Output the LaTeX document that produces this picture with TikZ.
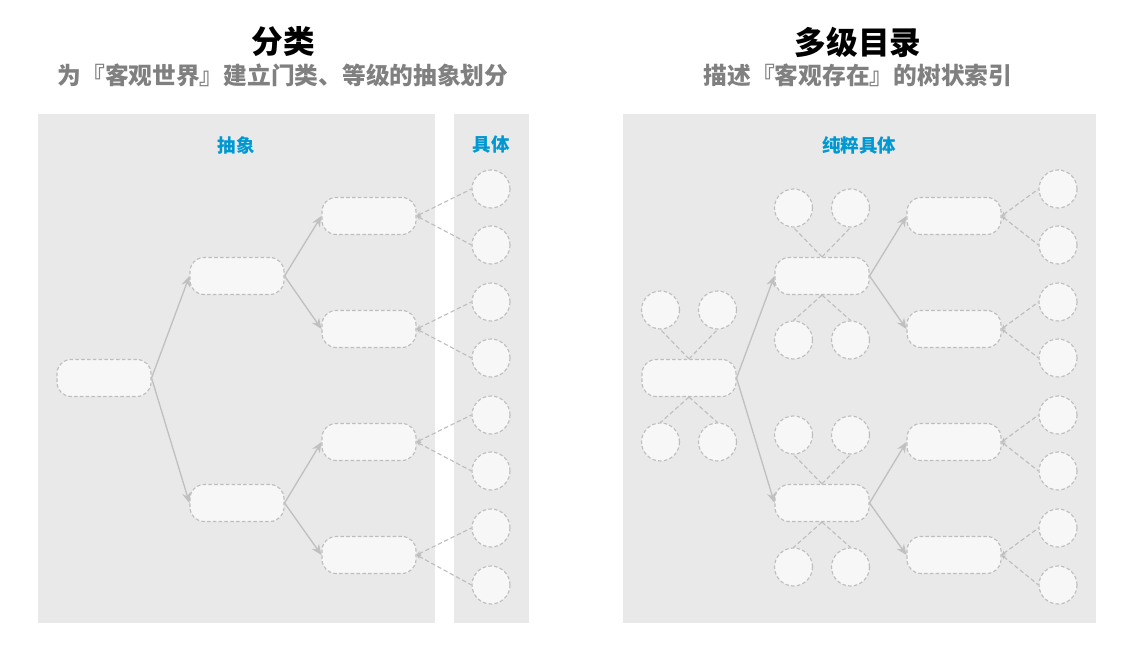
\documentclass[tikz,border=0pt]{standalone}
\usepackage{fontspec}
\newfontfamily\cjk{Noto Sans CJK SC}
\usetikzlibrary{arrows.meta, positioning}
\definecolor{panelgray}{RGB}{233,233,233}
\definecolor{boxfill}{RGB}{247,247,247}
\definecolor{dashgray}{RGB}{190,190,190}
\definecolor{linkgray}{RGB}{192,192,192}
\definecolor{labelblue}{RGB}{0,152,210}
\definecolor{subgray}{RGB}{128,128,128}
\tikzset{
  catbox/.style={draw=dashgray, dash pattern=on 2pt off 1.3pt, fill=boxfill, rounded corners=8pt,
                 minimum width=1.88cm, minimum height=0.74cm, line width=0.65pt},
  leaf/.style={draw=dashgray, dash pattern=on 2pt off 1.3pt, fill=boxfill, circle,
               minimum size=0.76cm, inner sep=0pt, line width=0.65pt},
  branch/.style={draw=linkgray, line width=0.75pt, -{Stealth[length=6pt,width=5pt]}},
  twig/.style={draw=dashgray, dash pattern=on 2.5pt off 1.5pt, line width=0.65pt},
  twigin/.style={twig, {Stealth[length=2.5pt,width=2.5pt]}-},
  headline/.style={font=\cjk\bfseries\fontsize{18}{20}\selectfont, text=black},
  subline/.style={font=\cjk\bfseries\fontsize{13.5}{15}\selectfont, text=subgray},
  zone/.style={font=\cjk\bfseries\fontsize{10.5}{12}\selectfont, text=labelblue}
}
\begin{document}
\begin{tikzpicture}[x=0.02cm, y=-0.02cm]
    \useasboundingbox (0,0) rectangle (1133,661);

    % panels
    \fill[panelgray] (38,114) rectangle (435,623);
    \fill[panelgray] (454,114) rectangle (529,623);
    \fill[panelgray] (623,114) rectangle (1096,623);

    % titles
    \node[headline] (t1) at (283,42) {分类};
    \node[subline] (s1) at (283,75) {为『客观世界』建立门类、等级的抽象划分};
    \node[headline] (t2) at (858,42) {多级目录};
    \node[subline] (s2) at (858,75) {描述『客观存在』的树状索引};

    \node[zone] (z1) at (236,145) {抽象};
    \node[zone] (z2) at (491,145) {具体};
    \node[zone] (z3) at (859,145) {纯粹具体};

    % classification tree
    \node[catbox] (a0) at (104,378) {};
    \foreach \n/\y in {1/276, 2/503}
        \node[catbox] (a\n) at (237,\y) {};
    \foreach \n/\y in {1/216, 2/329, 3/442, 4/555}
        \node[catbox] (b\n) at (369,\y) {};
    \foreach \n/\y in {1/189, 2/245, 3/302, 4/358, 5/415, 6/471, 7/528, 8/585}
        \node[leaf] (l\n) at (491,\y) {};

    \foreach \n in {1,2}
        \draw[branch] (a0.east) -- (a\n.west);
    \foreach \n/\p in {1/1, 2/1, 3/2, 4/2}
        \draw[branch] (a\p.east) -- (b\n.west);
    \foreach \n/\p in {1/1, 2/1, 3/2, 4/2, 5/3, 6/3, 7/4, 8/4}
        \draw[twigin] (b\p.east) -- (l\n.west);

    % directory tree
    \foreach \k/\x/\y in {0/689/378, 1/822/276, 2/822/503} {
        \node[catbox] (r\k) at (\x,\y) {};
        \node[leaf] (r\k u1) at ({\x-28.5},{\y-68}) {};
        \node[leaf] (r\k u2) at ({\x+28.5},{\y-68}) {};
        \node[leaf] (r\k d1) at ({\x-28.5},{\y+64}) {};
        \node[leaf] (r\k d2) at ({\x+28.5},{\y+64}) {};
        \draw[twig] (r\k.north) -- (r\k u1.south);
        \draw[twig] (r\k.north) -- (r\k u2.south);
        \draw[twig] (r\k.south) -- (r\k d1.north);
        \draw[twig] (r\k.south) -- (r\k d2.north);
    }
    \foreach \n/\y in {1/216, 2/329, 3/442, 4/555}
        \node[catbox] (q\n) at (954,\y) {};
    \foreach \n/\y in {1/189, 2/245, 3/302, 4/358, 5/415, 6/471, 7/528, 8/585}
        \node[leaf] (m\n) at (1058,\y) {};

    \foreach \n in {1,2}
        \draw[branch] (r0.east) -- (r\n.west);
    \foreach \n/\p in {1/1, 2/1, 3/2, 4/2}
        \draw[branch] (r\p.east) -- (q\n.west);
    \foreach \n/\p in {1/1, 2/1, 3/2, 4/2, 5/3, 6/3, 7/4, 8/4}
        \draw[twigin] (q\p.east) -- (m\n.west);
\end{tikzpicture}
\end{document}
